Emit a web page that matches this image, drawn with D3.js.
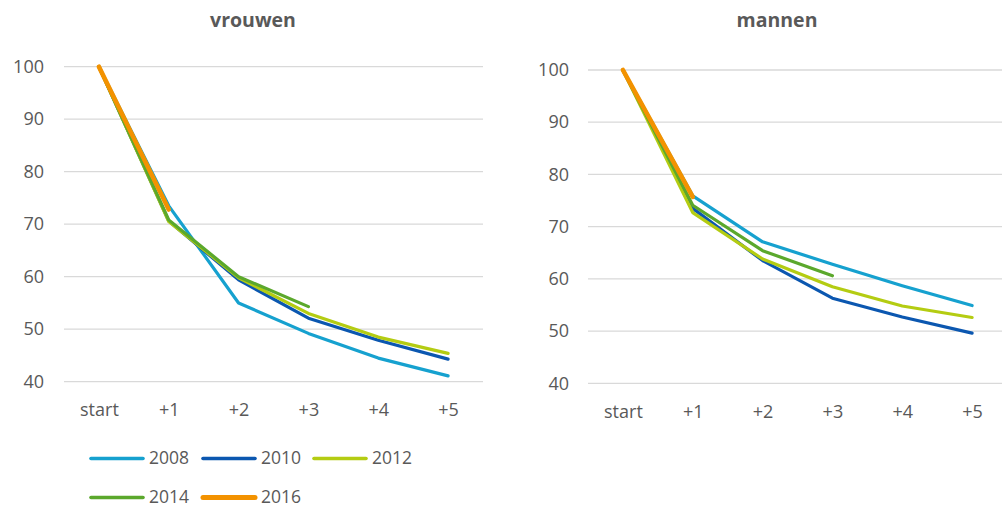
<!DOCTYPE html>
<html>
<head>
<meta charset="utf-8">
<script src="https://cdn.jsdelivr.net/npm/d3@7"></script>
<style>
  body { margin: 0; background: #fff; }
  svg { display: block; font-family: "Open Sans", sans-serif; }
</style>
</head>
<body>
<div id="chart"></div>
<script>
const categories = ["start", "+1", "+2", "+3", "+4", "+5"];
const years = ["2008", "2010", "2012", "2014", "2016"];
const yTicks = [40, 50, 60, 70, 80, 90, 100];

// vrouwen
const vrouwen2008 = [100, 73.5, 55.0, 49.2, 44.5, 41.1];
const vrouwen2010 = [100, 70.6, 59.4, 52.1, 47.9, 44.3];
const vrouwen2012 = [100, 70.5, 59.8, 53.0, 48.5, 45.4];
const vrouwen2014 = [100, 70.8, 60.0, 54.3];
const vrouwen2016 = [100, 72.8];

// mannen
const mannen2008 = [100, 75.9, 67.1, 62.8, 58.7, 54.9];
const mannen2010 = [100, 73.5, 63.5, 56.3, 52.7, 49.6];
const mannen2012 = [100, 72.7, 63.8, 58.5, 54.8, 52.6];
const mannen2014 = [100, 74.1, 65.4, 60.6];
const mannen2016 = [100, 75.7];

const colors = ["#16a1cf", "#0b57b0", "#b4cc12", "#5ba82c", "#f39200"];
const widths = [3.2, 3.2, 3.2, 3.2, 4.6];

const W = 1002, H = 508;
const textColor = "#595959";

const svg = d3.select("#chart").append("svg")
  .attr("width", W)
  .attr("height", H);

function drawPanel(title, series, x0, x1, yTop, yBottom, labelRight, titleX) {
  const x = d3.scalePoint().domain(categories).range([x0, x1]).padding(0.5);
  const y = d3.scaleLinear().domain([40, 100]).range([yBottom, yTop]);

  const g = svg.append("g");

  // grid
  g.append("g")
    .selectAll("line")
    .data(yTicks)
    .join("line")
    .attr("x1", x0)
    .attr("x2", x1)
    .attr("y1", d => y(d))
    .attr("y2", d => y(d))
    .attr("stroke", "#d9d9d9")
    .attr("stroke-width", 1.3);

  // y axis labels
  const yAxis = g.append("g")
    .attr("transform", `translate(${labelRight},0)`)
    .call(d3.axisLeft(y).tickValues(yTicks).tickSize(0).tickPadding(0));
  yAxis.select(".domain").remove();
  yAxis.selectAll("text")
    .attr("fill", textColor)
    .style("font-size", "18px")
    .style("font-family", "Open Sans, sans-serif");

  // x axis labels
  const xAxis = g.append("g")
    .attr("transform", `translate(0,${yBottom + 27})`)
    .call(d3.axisBottom(x).tickSize(0).tickPadding(0));
  xAxis.select(".domain").remove();
  xAxis.selectAll("text")
    .attr("fill", textColor)
    .attr("dy", "0.4em")
    .style("font-size", "18px")
    .style("font-family", "Open Sans, sans-serif");

  const line = d3.line()
    .x((d, i) => x(categories[i]))
    .y(d => y(d));

  g.append("g")
    .selectAll("path")
    .data(series)
    .join("path")
    .attr("d", d => line(d))
    .attr("fill", "none")
    .attr("stroke", (d, i) => colors[i])
    .attr("stroke-width", (d, i) => widths[i])
    .attr("stroke-linejoin", "round")
    .attr("stroke-linecap", "round");

  svg.append("text")
    .attr("x", titleX)
    .attr("y", 27)
    .attr("text-anchor", "middle")
    .attr("fill", textColor)
    .style("font-size", "19.5px")
    .style("font-weight", "bold")
    .text(title);
}

drawPanel("vrouwen",
  [vrouwen2008, vrouwen2010, vrouwen2012, vrouwen2014, vrouwen2016],
  64, 483, 66.7, 381.7, 44, 253);

drawPanel("mannen",
  [mannen2008, mannen2010, mannen2012, mannen2014, mannen2016],
  588, 1007, 70, 383.3, 569, 777);

// legend
const legendPos = [
  { x: 91, y: 458.5 },
  { x: 203, y: 458.5 },
  { x: 314, y: 458.5 },
  { x: 91, y: 497.5 },
  { x: 203, y: 497.5 }
];

const legend = svg.append("g")
  .selectAll("g")
  .data(years)
  .join("g")
  .attr("transform", (d, i) => `translate(${legendPos[i].x},${legendPos[i].y})`);

legend.append("line")
  .attr("x1", 0)
  .attr("x2", 52)
  .attr("stroke", (d, i) => colors[i])
  .attr("stroke-width", (d, i) => widths[i] + 0.4)
  .attr("stroke-linecap", "round");

legend.append("text")
  .attr("x", 58)
  .attr("y", 0)
  .attr("dy", "0.34em")
  .attr("fill", textColor)
  .style("font-size", "17.5px")
  .text(d => d);
</script>
</body>
</html>
